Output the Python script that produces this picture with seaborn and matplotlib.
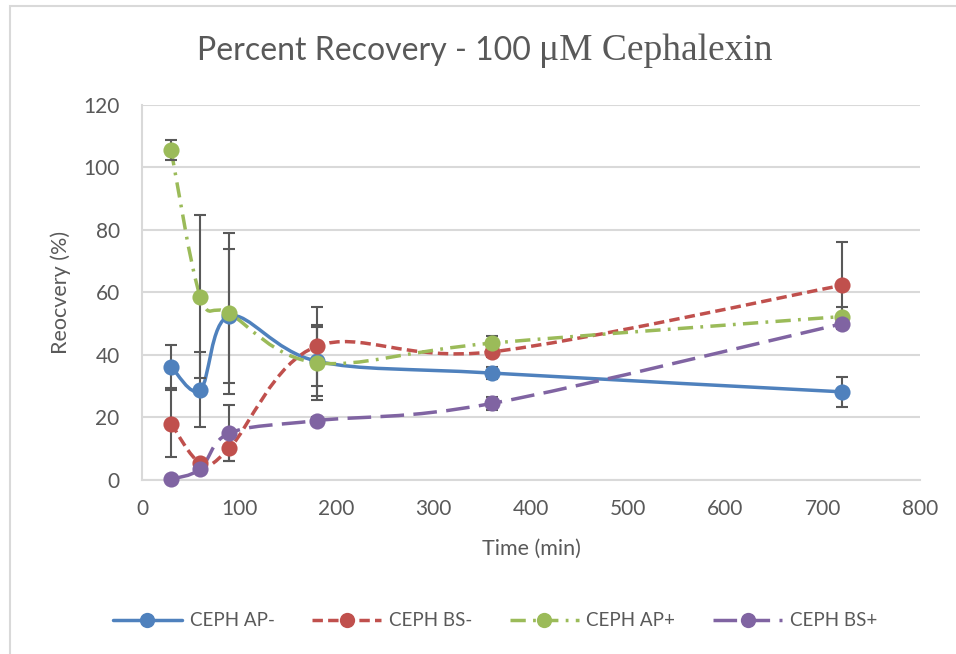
import matplotlib
matplotlib.use("Agg")
import matplotlib.pyplot as plt
import seaborn as sns
import pandas as pd
from matplotlib.path import Path
from matplotlib.patches import PathPatch, Rectangle
from matplotlib.lines import Line2D

# data
time_min = [30, 60, 90, 180, 360, 720]
series_names = ["CEPH AP-", "CEPH BS-", "CEPH AP+", "CEPH BS+"]
ap_minus = [36.3, 28.8, 52.5, 38.0, 34.2, 28.2]
bs_minus = [18.0, 5.5, 10.2, 42.8, 41.0, 62.3]
ap_plus = [105.5, 58.7, 53.3, 37.5, 43.8, 52.3]
bs_plus = [0.2, 3.5, 15.0, 19.0, 24.5, 50.0]
ap_minus_err = [7.0, 12.0, 21.5, 11.0, 2.0, 4.7]
bs_minus_err = [10.8, 1.0, 4.0, 12.6, 1.8, 14.0]
ap_plus_err = [3.2, 26.0, 25.7, 12.0, 2.4, 3.0]
bs_plus_err = [0.5, 1.0, 9.0, 1.0, 2.0, 1.0]

values = [ap_minus, bs_minus, ap_plus, bs_plus]
errors = [ap_minus_err, bs_minus_err, ap_plus_err, bs_plus_err]
colors = ["#4F81BD", "#C0504D", "#9BBB59", "#8064A2"]
styles = ["-", (0, (3.0, 1.5)), (0, (4.4, 2.1, 0.8, 2.1)), (0, (6.8, 2.7))]

sns.set_style("white")
plt.rcParams["font.family"] = ["Lato", "DejaVu Sans"]
text_color = "#595959"
grid_color = "#D9D9D9"
lw = 2.5


def smooth_path(xs, ys):
    # Excel-style smoothed line: cubic Bezier segments through the points
    pts = list(zip(xs, ys))
    n = len(pts)
    verts = [pts[0]]
    codes = [Path.MOVETO]
    for i in range(n - 1):
        p0 = pts[i - 1] if i > 0 else pts[i]
        p1 = pts[i]
        p2 = pts[i + 1]
        p3 = pts[i + 2] if i + 2 < n else pts[i + 1]
        c1 = (p1[0] + (p2[0] - p0[0]) / 6, p1[1] + (p2[1] - p0[1]) / 6)
        c2 = (p2[0] - (p3[0] - p1[0]) / 6, p2[1] - (p3[1] - p1[1]) / 6)
        verts += [c1, c2, p2]
        codes += [Path.CURVE4] * 3
    return Path(verts, codes)


fig = plt.figure(figsize=(9.56, 6.54), dpi=100)
ax = fig.add_axes([0.1485, 0.2661, 0.8138, 0.5734])

# outer chart border
fig.patches.append(Rectangle((10 / 956, -0.05), 1.0, 1 - 6 / 654 + 0.05,
                             transform=fig.transFigure, fill=False,
                             edgecolor=grid_color, linewidth=1.5, zorder=0))

for k in range(4):
    patch = PathPatch(smooth_path(time_min, values[k]), fill=False,
                      edgecolor=colors[k], linewidth=lw, linestyle=styles[k],
                      capstyle="butt", zorder=2 + k * 0.01)
    ax.add_patch(patch)

for k in range(4):
    ax.errorbar(time_min, values[k], yerr=errors[k], fmt="none",
                ecolor=text_color, elinewidth=1.5, capsize=4.5, capthick=1.5,
                zorder=3)

for k in range(4):
    df = pd.DataFrame({"Time": time_min, "Recovery": values[k]})
    sns.scatterplot(data=df, x="Time", y="Recovery", color=colors[k], s=135,
                    linewidth=0, zorder=4 + k, clip_on=False, ax=ax)

ax.set_xlim(0, 800)
ax.set_ylim(0, 120)
ax.set_xticks(range(0, 801, 100))
ax.set_yticks(range(0, 121, 20))
ax.yaxis.grid(True, color=grid_color, linewidth=1.5)
ax.set_axisbelow(True)
for side in ["top", "right"]:
    ax.spines[side].set_visible(False)
for side in ["left", "bottom"]:
    ax.spines[side].set_color(grid_color)
    ax.spines[side].set_linewidth(1.5)
ax.tick_params(axis="both", length=0, labelsize=15, labelcolor=text_color)
ax.tick_params(axis="y", pad=16)
ax.tick_params(axis="x", pad=14)

ax.set_xlabel("Time (min)", fontsize=15.5, color=text_color)
ax.xaxis.label.set_va("center")
ax.xaxis.set_label_coords(0.501, -0.184)
ax.set_ylabel("Reocvery (%)", fontsize=15.5, color=text_color)
ax.yaxis.label.set_va("center")
ax.yaxis.set_label_coords(-0.105, 0.501)

# title: sans part then serif part
t1 = fig.text(197 / 956, 1 - 60 / 654, "Percent Recovery - 100 ", fontsize=23,
              color=text_color, ha="left", va="baseline")
fig.canvas.draw()
bb = t1.get_window_extent()
fig.text(bb.x1 / fig.bbox.width, 1 - 60 / 654, "\u03bcM Cephalexin",
         fontsize=27, family="Liberation Serif", color=text_color,
         ha="left", va="baseline")

handles = [Line2D([0], [0], color=colors[k], linewidth=lw, linestyle=styles[k],
                  marker="o", markersize=11, markeredgewidth=0)
           for k in range(4)]
fig.legend(handles, series_names, loc="center", ncol=4,
           bbox_to_anchor=(495 / 956, 1 - 621 / 654), frameon=False,
           fontsize=13.5, labelcolor=text_color, handlelength=3.7,
           handletextpad=0.4, columnspacing=2.0)

fig.savefig("out.png", dpi=100)
